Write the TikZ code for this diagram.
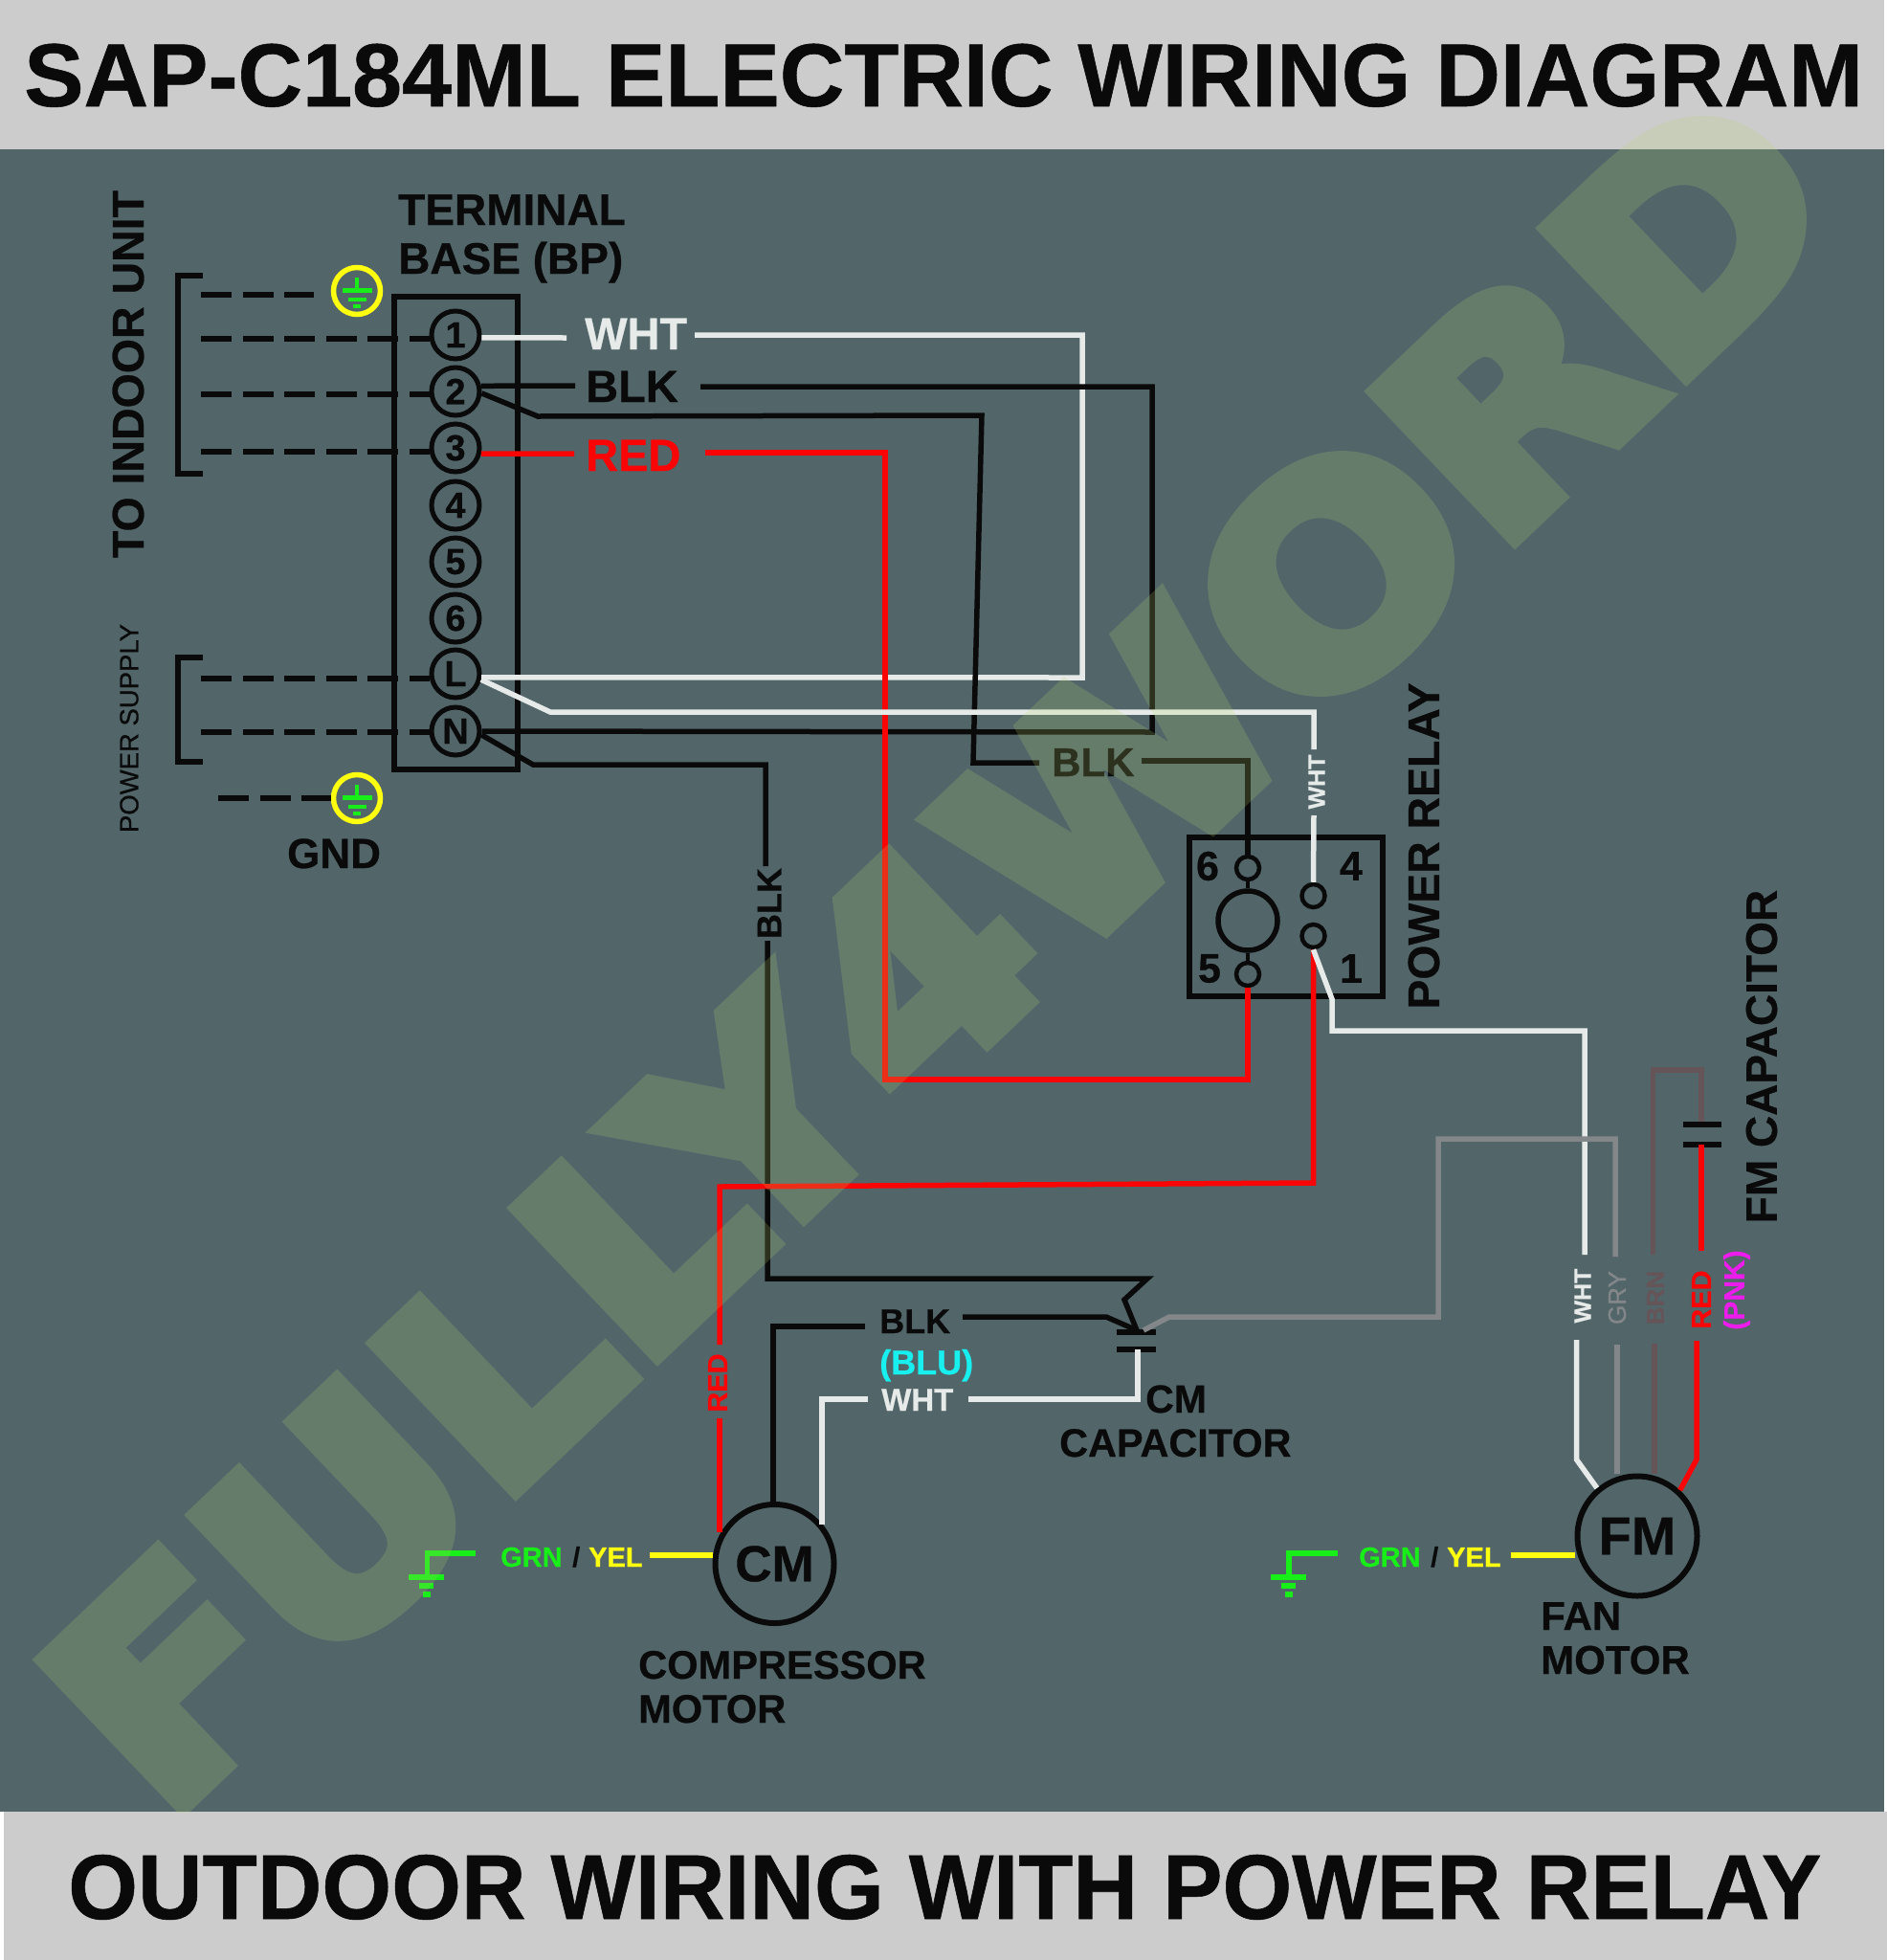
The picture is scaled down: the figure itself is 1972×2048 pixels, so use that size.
\documentclass[tikz,border=0pt]{standalone}
\usepackage{fontspec}
\setmainfont{Liberation Sans}[BoldFeatures={FakeBold=0.6}]
\newfontface\wmfont{DejaVu Sans Bold}[FakeBold=6]
\newfontface\medfont{Liberation Sans}[FakeBold=0.7]
\newcommand{\FS}[1]{\fontsize{#1}{#1}\selectfont}
\newcommand{\BF}[1]{\fontsize{#1}{#1}\selectfont\bfseries}
\definecolor{bgc}{HTML}{52666A}
\definecolor{band}{HTML}{CCCCCC}
\definecolor{wblk}{HTML}{0A0A0A}
\definecolor{wwht}{HTML}{E6EAE8}
\definecolor{wred}{HTML}{FA0505}
\definecolor{wgry}{HTML}{83878A}
\definecolor{wbrn}{HTML}{655458}
\definecolor{wgrn}{HTML}{18EE18}
\definecolor{wyel}{HTML}{FFFF10}
\definecolor{wcyn}{HTML}{18F0F0}
\definecolor{wmag}{HTML}{EC1CEC}
\definecolor{wmk}{HTML}{B6D46A}
\tikzset{
  wire/.style={line width=5.5pt,line join=miter},
  blk/.style={wire,draw=wblk},
  wht/.style={wire,draw=wwht},
  red/.style={wire,draw=wred},
  gry/.style={wire,draw=wgry},
  brn/.style={wire,draw=wbrn},
  dashwire/.style={draw=wblk,line width=5.5pt,dash pattern=on 32pt off 11.6pt},
  term/.style={circle,draw=wblk,line width=5pt,minimum size=50pt,inner sep=0pt,text=wblk,font=\BF{38}},
  gndring/.style={circle,draw=wyel,line width=5.5pt,minimum size=49pt,inner sep=0pt},
  lab/.style={anchor=base west,inner sep=0pt,text=wblk},
  rlab/.style={anchor=center,inner sep=0pt,rotate=90},
  contact/.style={circle,draw=wblk,line width=4.5pt,minimum size=24pt,inner sep=0pt},
  motor/.style={circle,draw=wblk,line width=6pt,minimum size=124pt,inner sep=0pt,text=wblk},
  plate/.style={draw=wblk,line width=6pt},
  grn/.style={draw=wgrn,line width=5.5pt},
}
\begin{document}
\begin{tikzpicture}[x=1pt,y=-1pt]
\useasboundingbox (0,0) rectangle (1972,2048);
\fill[white] (0,0) rectangle (1972,2048);
\fill[bgc] (0,156) rectangle (1969,1893);
\fill[band] (0,0) rectangle (1969,156);
\fill[band] (4,1893) rectangle (1972,2048);
\node[lab,font=\BF{93.5}] (title) at (25,111) {SAP-C184ML ELECTRIC WIRING DIAGRAM};
\node[lab,font=\BF{96},xscale=0.975] (subtitle) at (71,2005) {OUTDOOR WIRING WITH POWER RELAY};

% terminal base
\node[draw=wblk,line width=5.5pt,minimum width=129pt,minimum height=494pt,inner sep=0pt] (base) at (476.5,557) {};
\node[term] (t1) at (476,350) {1};
\node[term] (t2) at (476,409) {2};
\node[term] (t3) at (476,468) {3};
\node[term] (t4) at (476,528) {4};
\node[term] (t5) at (476,587) {5};
\node[term] (t6) at (476,646) {6};
\node[term] (tL) at (476,704) {L};
\node[term] (tN) at (476,764) {N};
\node[gndring] (g1) at (373,304) {};
\node[gndring] (g2) at (373,834) {};

% ground symbols in the rings
\foreach \g in {g1,g2}{
  \draw[grn,line width=4.5pt] (\g.center) ++(0,-14) -- ++(0,13);
  \draw[grn,line width=5pt] (\g.center) ++(-15,-1) -- ++(31,0);
  \draw[grn,line width=4.5pt] (\g.center) ++(-9,9) -- ++(19,0);
  \draw[grn,line width=4.5pt] (\g.center) ++(-4,16) -- ++(8,0);
}

% dashed incoming wires
\coordinate (d0) at (210,308); \coordinate (d0e) at (328,308);
\coordinate (d1) at (210,354); \coordinate (d2) at (210,412);
\coordinate (d3) at (210,472); \coordinate (dL) at (210,709);
\coordinate (dN) at (210,765); \coordinate (dG) at (228,834);
\draw[dashwire] (d0) -- (d0e);
\draw[dashwire] (d1) -- (t1.west |- d1);
\draw[dashwire] (d2) -- (t2.west |- d2);
\draw[dashwire] (d3) -- (t3.west |- d3);
\draw[dashwire] (dL) -- (tL.west |- dL);
\draw[dashwire] (dN) -- (tN.west |- dN);
\draw[dashwire] (dG) -- (g2.west);

% brackets
\draw[wblk,line width=5.5pt] (212,288) -- (186,288) -- (186,495) -- (212,495);
\draw[wblk,line width=5.5pt] (212,687) -- (186,687) -- (186,796) -- (212,796);

% left labels
\node[rlab,font=\BF{46.5},text=wblk] (toin) at (134,391) {TO INDOOR UNIT};
\node[rlab,font=\medfont\FS{27.5},text=wblk] (psup) at (135,761) {POWER SUPPLY};
\node[lab,font=\BF{46}] (tb1) at (416,235) {TERMINAL};
\node[lab,font=\BF{46}] (tb2) at (416,286) {BASE (BP)};
\node[lab,font=\BF{44}] (gnd) at (300,907) {GND};

% colour labels next to the base
\node[lab,font=\BF{47},text=wwht] (lw1) at (611,365) {WHT};
\node[lab,font=\BF{47}] (lb1) at (612,420) {BLK};
\node[lab,font=\BF{47},text=wred] (lr1) at (612,492) {RED};
\node[lab,font=\BF{42}] (lb2) at (1099,811) {BLK};
\node[rlab,font=\BF{36},text=wblk] (lb3) at (804,944) {BLK};
\node[rlab,font=\BF{25},text=wwht] (lw2) at (1376,817) {WHT};

% wire bends
\coordinate (w1a) at (592,353); \coordinate (w1b) at (726,350);
\coordinate (w1c) at (1131,350); \coordinate (w1d) at (1131,708);
\coordinate (b1a) at (601,403); \coordinate (b1b) at (732,404);
\coordinate (b1c) at (1204,404); \coordinate (b1d) at (1204,765);
\coordinate (r1a) at (600,474); \coordinate (r1b) at (737,473);
\coordinate (r1c) at (925,473); \coordinate (r1d) at (925,1128);
\coordinate (r1e) at (1304,1128);
\coordinate (b2a) at (562,435); \coordinate (b2b) at (1026,434);
\coordinate (b2c) at (1017,797); \coordinate (b2d) at (1086,797);
\coordinate (b2e) at (1193,795); \coordinate (b2f) at (1304,795);
\coordinate (w2a) at (575,744); \coordinate (w2b) at (1373,744);
\coordinate (w2c) at (1373,783); \coordinate (w2d) at (1373,852);
\coordinate (n2a) at (557,799); \coordinate (n2b) at (800,799);
\coordinate (n2c) at (800,905); \coordinate (n2d) at (802,983);
\coordinate (n2e) at (802,1336); \coordinate (n2f) at (1199,1336);
\coordinate (n2g) at (1175,1358); \coordinate (capt) at (1188,1390);

% power relay
\node[draw=wblk,line width=5.5pt,minimum width=202pt,minimum height=166pt,inner sep=0pt] (relay) at (1344,958) {};
\node[contact] (c6) at (1304,907) {};
\node[contact] (c5) at (1304,1018) {};
\node[contact] (c4) at (1372.5,936) {};
\node[contact] (c1) at (1372.5,978) {};
\node[circle,draw=wblk,line width=5.5pt,minimum size=62pt,inner sep=0pt] (coil) at (1304,962) {};
\draw[wblk,line width=4.5pt] (c6) -- (coil);
\draw[wblk,line width=4.5pt] (c5) -- (coil);
\node[lab,font=\BF{43},anchor=center] (n6) at (1262,905) {6};
\node[lab,font=\BF{43},anchor=center] (n5) at (1264,1012) {5};
\node[lab,font=\BF{43},anchor=center] (n4) at (1412,905) {4};
\node[lab,font=\BF{43},anchor=center] (n1) at (1412,1012) {1};
\node[rlab,font=\BF{46.4},text=wblk] (prl) at (1488,884) {POWER RELAY};
\node[rlab,font=\BF{46},text=wblk] (fmc) at (1841,1104) {FM CAPACITOR};

% top wires
\draw[wht] (t1.-6) -- (w1a);
\draw[wht] (w1b) -- (w1c) -- (w1d) -- (tL.-8);
\draw[blk] (t2.12) -- (b1a);
\draw[blk] (b1b) -- (b1c) -- (b1d) -- (tN.0);
\draw[red] (t3.-13) -- (r1a);
\draw[red] (r1b) -- (r1c) -- (r1d) -- (r1e) -- (c5.south);
\draw[blk] (t2.-4) -- (b2a) -- (b2b) -- (b2c) -- (b2d);
\draw[blk] (b2e) -- (b2f) -- (c6.north);
\draw[wht] (tL.-13) -- (w2a) -- (w2b) -- (w2c);
\draw[wht] (w2d) -- (c4.north);
\draw[blk] (tN.-8) -- (n2a) -- (n2b) -- (n2c);
\draw[blk] (n2d) -- (n2e) -- (n2f) -- (n2g) -- (capt);

% CM capacitor
\coordinate (pt1) at (1167,1392); \coordinate (pt2) at (1208,1392);
\coordinate (pb1) at (1167,1410); \coordinate (pb2) at (1208,1410);
\draw[plate] (pt1) -- (pt2);
\draw[plate] (pb1) -- (pb2);

% compressor motor
\node[motor,font=\BF{53}] (cm) at (809.5,1634) {CM};
\node[lab,font=\BF{36}] (lb4) at (919,1393) {BLK};
\node[lab,font=\BF{36},text=wcyn] (lblu) at (919,1436) {(BLU)};
\node[lab,font=\BF{33},text=wwht] (lw3) at (921,1474) {WHT};
\node[lab,font=\BF{41}] (ccm) at (1197,1476) {CM};
\node[lab,font=\BF{41.4}] (ccap) at (1107,1522) {CAPACITOR};
\node[lab,font=\BF{41.6}] (cmp1) at (667,1754) {COMPRESSOR};
\node[lab,font=\BF{41.6}] (cmp2) at (667,1800) {MOTOR};
\node[rlab,font=\BF{29},text=wred] (lr2) at (750,1445) {RED};
\node[lab,font=\BF{29},text=wgrn] (g1t) at (523,1637) {GRN};
\node[lab,font=\BF{29}] (s1t) at (598,1637) {/};
\node[lab,font=\BF{29},text=wyel] (y1t) at (615,1637) {YEL};

\coordinate (r2a) at (1372.5,1236); \coordinate (r2b) at (752,1240);
\coordinate (r2c) at (752,1405); \coordinate (r2d) at (752,1482);
\coordinate (r2e) at (752,1601);
\draw[red] (c1.south) -- (r2a) -- (r2b) -- (r2c);
\draw[red] (r2d) -- (r2e);
\coordinate (b4a) at (808,1386); \coordinate (b4b) at (904,1386);
\coordinate (b4c) at (1006,1376); \coordinate (b4d) at (1156,1376);
\draw[blk] (cm.north -| b4a) -- (b4a) -- (b4b);
\draw[blk] (b4c) -- (b4d) -- (capt);
\coordinate (w3a) at (859,1593); \coordinate (w3b) at (859,1462);
\coordinate (w3c) at (907,1462); \coordinate (w3d) at (1012,1462);
\coordinate (w3e) at (1189,1462);
\draw[wht] (w3a) -- (w3b) -- (w3c);
\draw[wht] (w3d) -- (w3e) -- (pb1 -| w3e);
\coordinate (y1a) at (679,1625);
\draw[wyel,line width=6pt] (y1a) -- (cm.west |- y1a);
\coordinate (gc1) at (497,1623); \coordinate (gc2) at (446.5,1623); \coordinate (gc3) at (446.5,1648);
\draw[grn] (gc1) -- (gc2) -- (gc3);
\draw[grn,line width=6pt] (427,1648) -- (464,1648);
\draw[grn,line width=5.5pt] (438,1657) -- (453,1657);
\draw[grn,line width=5.5pt] (442,1666) -- (450,1666);

% fan motor
\node[motor,minimum size=125pt,font=\BF{56}] (fm) at (1711,1605) {FM};
\node[lab,font=\BF{42}] (fan1) at (1610,1703) {FAN};
\node[lab,font=\BF{42}] (fan2) at (1610,1749) {MOTOR};
\node[rlab,font=\BF{25},text=wwht] (lw4) at (1654,1354) {WHT};
\node[rlab,font=\medfont\FS{26},text=wgry] (lg) at (1690,1356) {GRY};
\node[rlab,font=\BF{26},text=wbrn] (lbr) at (1730,1356) {BRN};
\node[rlab,font=\BF{29},text=wred] (lr3) at (1778,1358) {RED};
\node[rlab,font=\BF{30},text=wmag] (lpnk) at (1815,1348) {(PNK)};
\node[lab,font=\BF{29},text=wgrn] (g2t) at (1420,1637) {GRN};
\node[lab,font=\BF{29}] (s2t) at (1495,1637) {/};
\node[lab,font=\BF{29},text=wyel] (y2t) at (1512,1637) {YEL};

\coordinate (w4a) at (1392,1044); \coordinate (w4b) at (1392,1077);
\coordinate (w4c) at (1656,1077); \coordinate (w4d) at (1656,1311);
\coordinate (w4e) at (1647.5,1400); \coordinate (w4f) at (1647.5,1525);
\draw[wht] (c1.south) -- (w4a) -- (w4b) -- (w4c) -- (w4d);
\draw[wht] (w4e) -- (w4f) -- (fm.130);
\coordinate (g4a) at (1195,1390); \coordinate (g4b) at (1222,1376);
\coordinate (g4c) at (1503,1376); \coordinate (g4d) at (1503,1190);
\coordinate (g4e) at (1688,1190); \coordinate (g4f) at (1688,1313);
\coordinate (g4g) at (1690,1405);
\draw[gry] (g4a) -- (g4b) -- (g4c) -- (g4d) -- (g4e) -- (g4f);
\draw[gry] (g4g) -- (fm.north -| g4g);
\coordinate (br1) at (1727.5,1311); \coordinate (br2) at (1727.5,1118);
\coordinate (br3) at (1778,1118); \coordinate (cf1) at (1759,1175);
\coordinate (cf2) at (1799,1175); \coordinate (cf3) at (1759,1196);
\coordinate (cf4) at (1799,1196); \coordinate (br5) at (1729,1404);
\draw[brn] (br1) -- (br2) -- (br3) -- (br3 |- cf1);
\draw[brn] (br5) -- (fm.north -| br5);
\draw[plate] (cf1) -- (cf2);
\draw[plate] (cf3) -- (cf4);
\coordinate (r3a) at (1778,1307); \coordinate (r3b) at (1773,1401); \coordinate (r3c) at (1773,1525);
\draw[red] (r3a) -- (r3a |- cf3);
\draw[red] (r3b) -- (r3c) -- (fm.47);
\coordinate (y2a) at (1579,1625);
\draw[wyel,line width=6pt] (y2a) -- (fm.west |- y2a);
\coordinate (gf1) at (1398,1623); \coordinate (gf2) at (1347,1623); \coordinate (gf3) at (1347,1648);
\draw[grn] (gf1) -- (gf2) -- (gf3);
\draw[grn,line width=6pt] (1328,1648) -- (1365,1648);
\draw[grn,line width=5.5pt] (1339,1657) -- (1354,1657);
\draw[grn,line width=5.5pt] (1343,1666) -- (1351,1666);

% watermark
\begin{scope}
\clip (0,0) rectangle (1972,1893);
\begin{scope}[transparency group,opacity=0.2]
\node[inner sep=0pt,text=wmk,rotate=43.6,xscale=1.107,font=\wmfont\FS{290}] (wm) at (980,991) {FULLY4WORD};
\end{scope}
\end{scope}
\end{tikzpicture}
\end{document}
